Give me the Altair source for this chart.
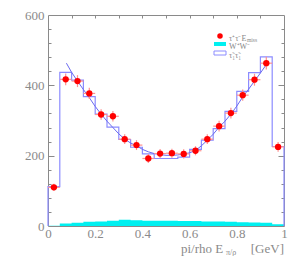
import altair as alt
import pandas as pd

# ---- data ----
bin_lo = [0.00, 0.05, 0.10, 0.15, 0.20, 0.25, 0.30, 0.35, 0.40, 0.45,
          0.50, 0.55, 0.60, 0.65, 0.70, 0.75, 0.80, 0.85, 0.90, 0.95]
bin_w = 0.05
stau = [112, 437, 415, 368, 318, 281, 246, 224, 205, 192,
        192, 196, 218, 244, 277, 326, 383, 436, 481, 226]
ww = [1, 7, 9, 12, 13, 15, 18, 16, 15, 15,
      15, 14, 14, 13, 13, 12, 11, 10, 9, 5]
data_y = [110, 417, 412, 377, 317, 312, 247, 230, 192, 206,
          207, 205, 214, 247, 284, 321, 372, 416, 463, 225]
data_err = [10, 17, 17, 16, 15, 15, 14, 14, 13, 13,
            13, 13, 13, 14, 15, 15, 16, 17, 18, 14]
fit_x = [0.078, 0.10, 0.125, 0.15, 0.175, 0.20, 0.225, 0.25, 0.275, 0.30,
         0.325, 0.35, 0.375, 0.40, 0.425, 0.45, 0.475, 0.50, 0.525, 0.55,
         0.60, 0.625, 0.65, 0.675, 0.70, 0.725, 0.75, 0.775, 0.80, 0.825,
         0.85, 0.875, 0.90, 0.922]
fit_y = [463, 437, 412, 388, 365, 340, 318, 298, 280, 262,
         247, 236, 228, 218, 211, 206, 203, 201, 201, 202,
         208, 215, 228, 244, 261, 281, 298, 318, 341, 367,
         389, 412, 435, 456]

# ---- tables ----
step_rows = [{"x": 0.0, "y": 0, "o": 0}]
for i, (x, v) in enumerate(zip(bin_lo, stau)):
    step_rows.append({"x": x, "y": v, "o": i + 1})
step_rows.append({"x": 1.0, "y": stau[-1], "o": 21})
step_rows.append({"x": 1.0, "y": 0, "o": 22})
step_df = pd.DataFrame(step_rows)

ww_rows = [{"x": x, "y": v} for x, v in zip(bin_lo, ww)] + [{"x": 1.0, "y": ww[-1]}]
ww_df = pd.DataFrame(ww_rows)

pts = pd.DataFrame({
    "x": [b + bin_w / 2 for b in bin_lo],
    "xlo": bin_lo,
    "xhi": [b + bin_w for b in bin_lo],
    "y": data_y,
    "ylo": [v - e for v, e in zip(data_y, data_err)],
    "yhi": [v + e for v, e in zip(data_y, data_err)],
})
fit_df = pd.DataFrame({"x": fit_x, "y": fit_y})

W, H = 236, 211
GRAY = "#8a8a8a"
FONT = "Liberation Serif"

xs = alt.Scale(domain=[0, 1], nice=False, zero=False)
ys = alt.Scale(domain=[0, 600], nice=False)

minor_x = [round(0.1 * i, 1) for i in range(1, 10)]
minor_y = [40 * i for i in range(1, 15) if (40 * i) % 200 != 0]
major_y = [200, 400]

# Layer 1: WW cyan area with the labelled axes
l_ww = alt.Chart(ww_df).mark_area(interpolate="step-after", color="#00f0f0", opacity=1).encode(
    x=alt.X("x:Q", scale=xs, title=None,
            axis=alt.Axis(orient="bottom", values=[0, 0.2, 0.4, 0.6, 0.8, 1],
                          format="~g", ticks=False, labelPadding=1, labelFlush=False,
                          domainColor=GRAY, labelColor=GRAY, labelFont=FONT,
                          labelFontSize=13)),
    y=alt.Y("y:Q", scale=ys, title=None,
            axis=alt.Axis(orient="left", values=[0, 200, 400, 600], ticks=False,
                          labelPadding=4, labelFlush=False, domainColor=GRAY,
                          labelColor=GRAY, labelFont=FONT, labelFontSize=13)),
)

# Layer 2: stau step histogram, inward minor ticks bottom + left
l_step = alt.Chart(step_df).mark_line(interpolate="step-after", color="#8c8cff",
                                      strokeWidth=1.2).encode(
    x=alt.X("x:Q", scale=xs, title=None,
            axis=alt.Axis(orient="top", offset=-H, values=minor_x, labels=False,
                          domain=False, tickSize=3, tickColor=GRAY)),
    y=alt.Y("y:Q", scale=ys, title=None,
            axis=alt.Axis(orient="right", offset=-W, values=minor_y, labels=False,
                          domain=False, tickSize=3, tickColor=GRAY)),
    order="o:Q",
)

# Layer 3: fit curve, top frame + right frame with inward minor ticks
l_fit = alt.Chart(fit_df).mark_line(color="#6a6af0", strokeWidth=1).encode(
    x=alt.X("x:Q", scale=xs, title=None,
            axis=alt.Axis(orient="bottom", offset=-H, values=minor_x, labels=False,
                          domainColor=GRAY, tickSize=3, tickColor=GRAY)),
    y=alt.Y("y:Q", scale=ys, title=None,
            axis=alt.Axis(orient="left", offset=-W, values=minor_y, labels=False,
                          domainColor=GRAY, tickSize=3, tickColor=GRAY)),
)

# Layer 4: vertical error bars, left major ticks
l_ev = alt.Chart(pts).mark_rule(color="#ff9090", strokeWidth=1.2).encode(
    x=alt.X("x:Q", scale=xs, axis=None),
    y=alt.Y("ylo:Q", scale=ys, title=None,
            axis=alt.Axis(orient="right", offset=-W, values=major_y, labels=False,
                          domain=False, tickSize=6, tickColor=GRAY)),
    y2="yhi:Q",
)

# Layer 5: horizontal error bars, right major ticks
l_eh = alt.Chart(pts).mark_rule(color="#ff9090", strokeWidth=1.2).encode(
    x=alt.X("xlo:Q", scale=xs, axis=None),
    x2="xhi:Q",
    y=alt.Y("y:Q", scale=ys, title=None,
            axis=alt.Axis(orient="left", offset=-W, values=major_y, labels=False,
                          domain=False, tickSize=6, tickColor=GRAY)),
)

# Layer 6: data points
l_pts = alt.Chart(pts).mark_point(filled=True, color="#ff0000", opacity=1, size=40).encode(
    x=alt.X("x:Q", scale=xs, axis=None),
    y=alt.Y("y:Q", scale=ys, axis=None),
)

# Legend (drawn manually)
one = pd.DataFrame({"a": [0]})
leg_dot = alt.Chart(one).mark_point(filled=True, color="#ff0000", opacity=1, size=30).encode(
    x=alt.value(172), y=alt.value(21))
leg_cyan = alt.Chart(one).mark_rect(color="#00f0f0").encode(
    x=alt.value(166), x2=alt.value(178), y=alt.value(27), y2=alt.value(31))
leg_blue = alt.Chart(one).mark_rect(fill="white", stroke="#8c8cff", strokeWidth=1).encode(
    x=alt.value(166), x2=alt.value(178), y=alt.value(36), y2=alt.value(40))

leg_txt_df = pd.DataFrame({
    "t": ["τ⁺τ⁻E", "W⁺W⁻", "τ̃₁τ̃₁"],
    "xx": [181, 181, 181],
    "yy": [23.5, 31.5, 41],
})
leg_txt = alt.Chart(leg_txt_df).mark_text(align="left", font=FONT, fontSize=8,
                                          color="#888888").encode(
    x=alt.X("xx:Q", scale=None, axis=None), y=alt.Y("yy:Q", scale=None, axis=None),
    text="t:N")
leg_sub = alt.Chart(one).mark_text(align="left", font=FONT, fontSize=5.5,
                                   color="#888888", text="miss").encode(
    x=alt.value(199), y=alt.value(25))

# Axis title, drawn as text to allow the subscript
title_main = alt.Chart(one).mark_text(align="left", baseline="alphabetic", font=FONT,
                                      fontSize=13, color=GRAY, text="pi/rho E").encode(
    x=alt.value(133), y=alt.value(238))
title_sub = alt.Chart(one).mark_text(align="left", baseline="alphabetic", font=FONT,
                                     fontSize=8, color=GRAY, text="π/ρ").encode(
    x=alt.value(178), y=alt.value(240))
title_unit = alt.Chart(one).mark_text(align="right", baseline="alphabetic", font=FONT,
                                      fontSize=13, color=GRAY, text="[GeV]").encode(
    x=alt.value(236), y=alt.value(238))

chart = alt.layer(
    l_ww, l_step, l_fit, l_ev, l_eh, l_pts,
    leg_dot, leg_cyan, leg_blue, leg_txt, leg_sub,
    title_main, title_sub, title_unit,
).resolve_axis(x="independent", y="independent").properties(
    width=W, height=H,
    autosize=alt.AutoSizeParams(type="none"),
    padding={"left": 40, "top": 7, "right": 10, "bottom": 33},
).configure_axis(grid=False).configure_view(stroke=None)

chart.save("out.html", embed_options={"renderer": "svg", "actions": False})
